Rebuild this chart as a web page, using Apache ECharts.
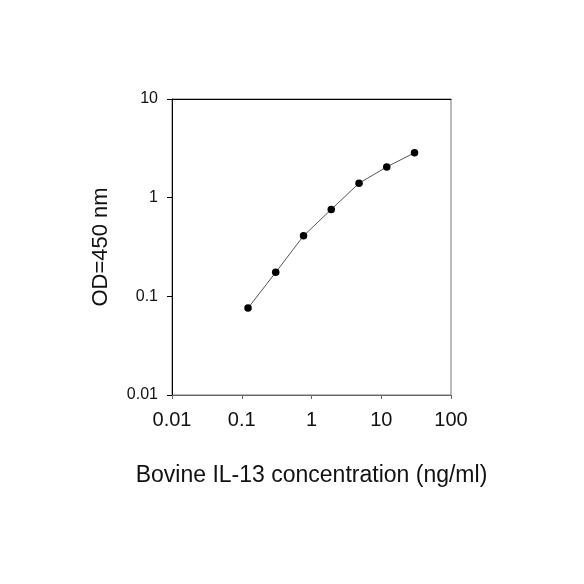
<!DOCTYPE html>
<html>
<head>
<meta charset="utf-8">
<script src="https://cdn.jsdelivr.net/npm/echarts@6/dist/echarts.min.js"></script>
<style>
  html, body { margin: 0; padding: 0; background: #fff; }
  #chart { width: 584px; height: 584px; }
</style>
</head>
<body>
<div id="chart"></div>
<script>
// standard curve: concentration (ng/ml) vs OD450
const concentrations = [0.123, 0.307, 0.768, 1.92, 4.8, 12, 30];
const odValues = [0.076, 0.175, 0.41, 0.76, 1.4, 2.05, 2.85];
const xTickLabels = ["0.01", "0.1", "1", "10", "100"];
const yTickLabels = ["0.01", "0.1", "1", "10"];

const xTitle = "Bovine IL-13 concentration (ng/ml)";
const yTitle = "OD=450 nm";

const chart = echarts.init(document.getElementById("chart"));

const fmt = (list) => (value) => {
  const hit = list.find((s) => Math.abs(Number(s) - value) / value < 1e-6);
  return hit || "";
};

const option = {
  backgroundColor: "#fff",
  animation: false,
  textStyle: { fontFamily: "Liberation Sans, Arial, sans-serif" },
  grid: {
    left: 172,
    right: 133,
    top: 99,
    bottom: 189,
    show: true,
    borderColor: "#777",
    borderWidth: 1,
  },
  xAxis: [
    {
      type: "log",
      logBase: 10,
      min: 0.01,
      max: 100,
      name: xTitle,
      nameLocation: "middle",
      nameGap: 69,
      nameTextStyle: { color: "#111", fontSize: 23 },
      axisLine: { show: true, lineStyle: { color: "#666", width: 1 } },
      axisTick: { show: true, length: 4, lineStyle: { color: "#666" } },
      minorTick: { show: false },
      splitLine: { show: false },
      axisLabel: {
        color: "#111",
        fontSize: 20,
        margin: 15,
        formatter: fmt(xTickLabels),
      },
    },
    {
      type: "log",
      position: "top",
      min: 0.01,
      max: 100,
      axisLine: { show: true, lineStyle: { color: "#000", width: 1 } },
      axisTick: { show: false },
      axisLabel: { show: false },
      splitLine: { show: false },
    },
  ],
  yAxis: {
    type: "log",
    logBase: 10,
    min: 0.01,
    max: 10,
    name: yTitle,
    nameLocation: "middle",
    nameGap: 60,
    nameRotate: 90,
    nameTextStyle: { color: "#111", fontSize: 22 },
    axisLine: { show: true, lineStyle: { color: "#000", width: 1 } },
    axisTick: { show: true, length: 5, lineStyle: { color: "#000" } },
    splitLine: { show: false },
    axisLabel: {
      color: "#111",
      fontSize: 16,
      margin: 14,
      formatter: fmt(yTickLabels),
    },
  },
  series: [
    {
      type: "line",
      data: concentrations.map((c, i) => [c, odValues[i]]),
      symbol: "circle",
      symbolSize: 7.5,
      lineStyle: { color: "#555", width: 1 },
      itemStyle: { color: "#000" },
    },
  ],
};

chart.setOption(option);
</script>
</body>
</html>
